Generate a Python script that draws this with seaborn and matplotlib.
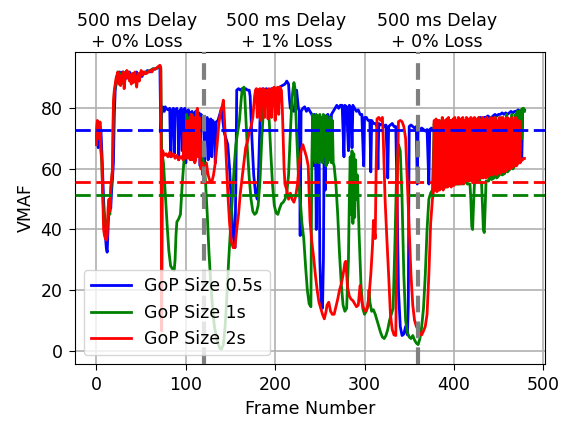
import matplotlib
matplotlib.use("Agg")
import matplotlib.pyplot as plt
import seaborn as sns
import pandas as pd

# ---------------- data ----------------
blue_frames = [0,1,2,3,4,5,6,7,8,9,
10,11,12,13,14,15,16,17,18,19,
20,21,22,23,24,25,26,27,28,29,
30,31,32,33,35,37,39,41,43,45,
47,49,51,53,55,57,60,63,66,69,
71,72,73,74,75,76,77,78,80,82,
83,84,86,87,88,90,91,92,93,95,
96,97,99,100,101,103,104,105,107,108,
109,111,112,113,115,116,117,119,120,121,
122,124,125,126,128,129,130,132,133,134,
136,138,140,141,143,145,147,149,151,153,
155,156,157,159,161,163,165,167,169,171,
172,174,176,178,180,181,183,184,186,188,
190,193,196,199,202,205,208,211,213,215,
216,217,219,221,223,224,226,227,228,229,
231,233,235,237,239,241,242,243,244,245,
246,247,249,250,251,252,253,254,255,256,
257,259,261,262,263,265,267,269,271,273,
275,277,278,280,282,283,285,286,287,289,
291,293,295,297,299,300,302,304,306,307,
308,310,312,314,315,316,318,320,322,324,
326,327,329,331,333,335,337,338,340,342,
344,346,348,349,350,352,354,356,358,359,
360,362,364,366,368,370,372,373,375,377,
379,381,383,385,387,389,391,393,395,397,
399,401,403,405,407,409,410,412,414,416,
418,420,422,424,426,428,430,432,434,436,
438,440,441,442,444,446,448,450,452,454,
456,458,460,462,464,466,468,470,472,474,
476,477,479]
blue_vmaf = [70,75.5,67,75,70,73,66,58,50,44,
38,34,32.5,40,48,50,47,53,57,62,
78,86,88,90.5,91.5,90,92,91,89,92,
90.5,91.5,89.5,92,90,92,89,91,89.5,92,
90,91.5,90.5,92,91.5,92.5,92,93,93,93.5,
94,72,78,80.5,80,79,80.5,80,79.5,80,
64,79,80,65,79.5,80,78,63,79,80,
66,79,80,62,79,79.5,64,78.5,79,63,
78,79,65,78,78.5,61,78,77,76,62,
76,77,63,76,76.5,64,76,75,62,75.5,
76,78,80,77,72,70,68,60,48,38,
34,55,86,86.5,86,86.5,86,86.5,86,86,
84,70,58,52,50,55,75,86,86.5,86,
86.5,86,86.5,86,86.5,87,87.5,88,89,88,
83,80,79.5,79,84,86,80,79,38,79,
80,80.5,79,80,79,78,77,61,78,77,
40,77.5,77,30,20,15,14,30,77,53,
77.5,78,76,63,78,79,80,81,80,81,
81,64,81,80.5,66,81,80,67,81,80,
79,79.5,78,78,61,77,77,76,76,59,
76,75,75,74,60,75,74.5,75,74,74.5,
57,74,74.5,75,74,74,40,20,8,5,
5.5,8,5.2,15,74,74.5,74,73.5,74,55,
73.5,73,73.5,73,72.5,73,55,73,73.5,73,
72.5,73,73.5,74,73.5,73,74,73.5,74,73.5,
74,74.5,74,74.5,75,56,74.5,75,75.5,75,
75.5,76,76,76.5,76,76.5,77,76.5,77,77,
77.5,77,63,77,77.5,78,77.5,78,78,78.5,
78,78.5,78,78.5,79,78.5,79,79,79.5,79,
63,79,79.5]

green_frames = [0,1,2,3,4,5,6,7,8,9,
10,11,12,13,14,15,16,17,18,19,
20,21,22,23,24,25,26,27,28,29,
30,31,33,35,37,39,41,43,45,47,
49,51,53,55,57,60,63,66,69,71,
72,73,75,77,79,81,83,85,87,88,
89,90,92,94,96,98,99,100,101,102,
104,105,107,108,110,111,113,114,116,118,
120,122,124,126,128,130,132,134,136,138,
140,142,144,146,148,150,152,154,156,158,
160,162,163,165,166,167,169,171,173,175,
177,179,181,183,185,187,189,191,193,195,
197,199,201,203,205,207,209,211,213,215,
217,219,221,222,224,226,228,230,232,234,
236,238,240,241,242,243,244,245,246,247,
248,249,250,251,252,253,254,255,256,257,
258,259,260,261,262,263,264,265,266,268,
270,272,274,276,278,280,282,283,284,285,
286,287,288,289,290,291,292,294,296,298,
300,302,304,305,306,308,310,312,314,316,
318,320,322,324,326,328,330,332,334,336,
338,340,342,344,346,348,350,352,354,356,
358,360,362,364,366,368,370,372,374,376,
378,379,382,384,385,388,390,391,394,396,
397,400,402,403,406,408,409,412,414,415,
418,419,420,421,422,423,426,428,429,431,
432,433,434,435,436,439,441,442,445,447,
448,451,453,454,457,459,460,463,465,466,
468,469,470,471,472,473,474,475,476,477,
478,479]
green_vmaf = [69,75,73,70,74,66,62,52,46,44,
42,40,41,44,47,45,52,56,60,80,
85,87,89,90,92,91,89,91.5,88,90.5,
92,90,92,90.5,91,89,91.5,90,88.5,90.5,
91,92,91.5,92,92,92.5,93,93,93.5,94,
93,66,62,52,42,33,28,27,26.5,30,
38,42.5,43.5,45,55,63,64,66,78,65,
77,66,78,65,77,66,78,64,70,65,
62,56,45,32,22,14,8,5,2.5,0.8,
0.5,2,8,18,30,40,50,60,68,72,
76,83,86,87,84,78,66,57,50,46,
45,45.5,48,56,70,80,86,85,78,66,
55,48,45.5,45,47,48.5,49,50,52,58,
72,84,88.5,87,72,58,50,42,37,28,
20,15.5,14.5,62,78,63,77.5,62,78,64,
77,62,78,63,77,62,78,64,77,61,
77.5,62,76,63,77,62,76,62,61,55,
45,32,22,15,13,14,30,50,64,45,
66,42,65,44,63,50,58,38,22,14,
12,13,15,20,16,13,13.5,12,10,8,
6,4.5,4,5,7,10,12,14,35,60,
68,66,50,25,10,6,4.5,4,5,3.5,
2.5,2,4,8,14,25,40,50,52,53,
75,53,53.5,76,54,54,75,54,54.5,76,
55,55,76,55,55,75,55,55.5,76,55,
55,50,41,40,48,55,56,77,56,55,
48,40,39,47,56,56,77,56.5,57,77,
57,58,77,58,58.5,78,59,60,78,60,
61,78,62,79,64,79,66,79.5,70,80,
80,79]

red_frames = [0,1,2,3,4,5,6,7,8,9,
10,11,12,13,14,15,16,17,18,19,
20,21,22,23,24,25,26,27,28,29,
30,31,32,33,34,35,36,37,38,39,
40,41,42,43,44,45,46,47,48,49,
50,52,54,56,58,60,62,64,66,68,
70,71,72,73,74,76,78,80,82,84,
86,88,90,92,94,96,97,98,99,101,
102,103,105,106,107,108,109,110,111,112,
113,114,115,116,117,118,119,120,121,123,
125,127,129,131,133,135,137,139,141,142,
143,145,147,149,151,153,155,157,159,161,
163,165,167,169,171,173,175,177,178,179,
180,181,183,184,185,187,188,189,191,192,
193,195,196,197,199,200,201,203,204,205,
207,208,209,210,211,213,215,217,219,221,
223,225,227,229,231,233,235,237,239,241,
243,245,247,249,251,253,255,257,258,260,
262,264,266,268,270,272,274,276,278,279,
281,283,285,287,289,291,293,295,297,299,
301,303,305,307,309,310,311,312,313,314,
316,318,320,321,323,325,327,329,331,333,
335,336,337,338,340,342,344,346,348,350,
352,354,356,358,360,362,364,366,368,370,
372,374,376,377,378,379,380,381,382,383,
384,385,386,387,388,389,390,391,392,393,
394,395,396,397,398,399,400,401,402,403,
404,405,406,407,408,409,410,411,412,413,
414,415,416,417,418,419,420,421,422,423,
424,425,426,427,428,429,430,431,432,433,
434,435,436,437,438,439,440,441,442,443,
444,445,446,447,448,449,450,451,452,453,
454,455,456,457,458,459,460,461,462,463,
464,465,466,467,468,469,470,471,472,473,
474,475,476,477,478,479]
red_vmaf = [68,76,74,70,75.5,67,63,52,40,38,
37,36.5,38,47,50,46,54,57,60,82,
86,88,90,91,92,88,90,87.5,91,89,
92,86.5,90,91.5,92.5,90,92,89,91,88,
91.5,88.5,91,92,89,87,90,91.5,89,91,
92.5,91,92,91.5,92,92.5,92,93,93,93.5,
94,94.2,93.5,6.5,66,64.5,65,64,65.5,64,
65,63.5,64.5,63,64,64,63,72,64,63.5,
76,64,63,78,63,64,77,62,63,79,
80,64,77,62,60,62,58,61,57,62,
58,56,55.5,58,62,68,75,79,81,82.7,
78,65,52,42,36,34,34,40,45,52,
57,62,67,69,72,74,77,84,86,86.5,
77,86,86.5,76,86,86.5,77,86,86,76.5,
86.5,86,77,86.5,87,76,86.5,87,78,87,
86,80,70,60,55,53,50,52,50,49,
51,55,62,66,68,66,64,61,43,36,
31,25,20,16,14,12,10.5,13,15,16,
13,12,12,14.5,17,20,22,25,29,29.5,
21,18,17,16.5,15.5,14.5,15,21.5,16,14,
13,14,18,25,35,43,40,37,60,76.5,
77,76,77,70,50,37,25,12,7,5.2,
5,30,60,75.6,76,75.6,74,70,55,40,
25,15,10,8,7,5.5,5.2,6.5,8,12,
25,42,50,52,76,53,76.5,52.5,53,76,
53,75.5,53.5,77,53,76,54,54,76.5,54,
77,54.5,76,54,55,76.5,54.5,77,55,76,
55,77,55.5,55,76.5,55.5,77,55,76,56,
77,56,76.5,56,56.5,77,56,76.5,56.5,77,
56,57,76.5,56.5,77,57,76,57,77,57,
57.5,76.5,57,77,57.5,76,58,58,77,58,
76.5,58.5,77,58,76,58.5,59,77,58.5,76.5,
59,77,59.5,59,76,59.5,77,60,76.5,60,
60.5,77,60.5,76,61,77,61,61.5,62,76,
62,62.5,63,63,63.5,63.5]

series_labels = ["GoP Size 0.5s", "GoP Size 1s", "GoP Size 2s"]
series_colors = ["blue", "green", "red"]
mean_vmaf = [72.8, 51.3, 55.8]          # dashed average lines (blue, green, red)
phase_bounds = [120, 360]               # vertical separators
phase_labels = ["500 ms Delay\n+ 0% Loss",
                "500 ms Delay\n+ 1% Loss",
                "500 ms Delay\n+ 0% Loss"]
x_ticks = [0, 100, 200, 300, 400, 500]
y_ticks = [0, 20, 40, 60, 80]

# ---------------- figure ----------------
plt.rcParams["font.family"] = ["DejaVu Sans"]
plt.rcParams["font.size"] = 12.5

fig = plt.figure(figsize=(5.61, 4.23), dpi=100)
ax = fig.add_axes([0.1337, 0.1395, 0.8378, 0.7376])

frames_list = [blue_frames, green_frames, red_frames]
vmaf_list = [blue_vmaf, green_vmaf, red_vmaf]
for fr, vm, lab, col in zip(frames_list, vmaf_list, series_labels, series_colors):
    df = pd.DataFrame({"Frame Number": fr, "VMAF": vm})
    sns.lineplot(data=df, x="Frame Number", y="VMAF", color=col, linewidth=2,
                 label=lab, ax=ax, estimator=None, sort=True)

for m, col in zip(mean_vmaf, series_colors):
    ax.axhline(m, color=col, linewidth=2, linestyle=(0, (5.5, 2)), zorder=4)

for b in phase_bounds:
    ax.axvline(b, color="gray", linewidth=3, linestyle=(0, (4, 2.2)), zorder=5)

ax.set_xlim(-24, 502)
ax.set_ylim(-4.4, 98.6)
ax.set_xticks(x_ticks)
ax.set_yticks(y_ticks)
ax.grid(True, color="#b0b0b0", linewidth=1.2)
ax.set_axisbelow(True)
ax.tick_params(length=4.5, width=0.8, pad=4.5, labelsize=12.5)
ax.set_xlabel("Frame Number", fontsize=12.5)
ax.set_ylabel("VMAF", fontsize=12.5)

leg = ax.legend(loc="lower left", fontsize=12.5, handlelength=2.3, framealpha=0.8)
for ln in leg.get_lines():
    ln.set_linewidth(2)

for xf, txt in zip([0.131, 0.450, 0.770], phase_labels):
    ax.text(xf, 1.004, txt, transform=ax.transAxes, ha="center", va="bottom",
            fontsize=12.5, linespacing=1.2)

fig.savefig("out.png", dpi=100)
